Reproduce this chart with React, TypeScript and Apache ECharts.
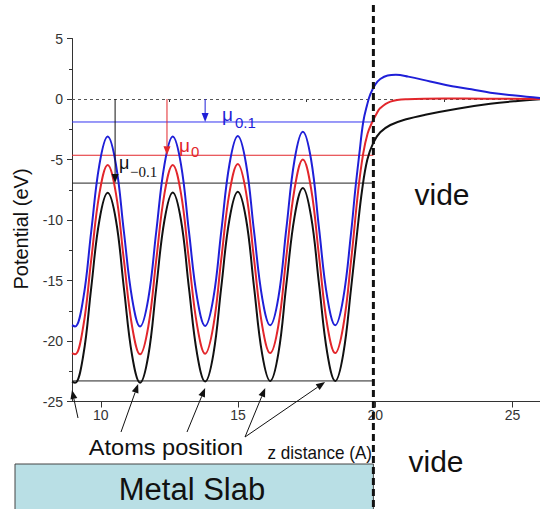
import React, { useEffect, useRef } from 'react';
import * as echarts from 'echarts';

// ---------- data ----------
const X_MIN = 8.95;
const X_MAX = 26;
const Y_MIN = -25;
const Y_MAX = 5;

const xTicks = [10, 15, 20, 25];
const xMinorTicks = [12.5, 17.5, 22.5];

// oscillating part inside the slab (z in Å)
const zOsc = [8.95, 9.06, 9.36, 9.65, 9.95, 10.25, 10.55, 10.84, 11.14, 11.43,
  11.73, 12.02, 12.32, 12.62, 12.92, 13.21, 13.51, 13.8, 14.1, 14.39,
  14.69, 14.99, 15.29, 15.58, 15.88, 16.17, 16.47, 16.76, 17.06, 17.36,
  17.66, 17.95, 18.25, 18.54, 18.83, 19.12];

const potBlackOsc = [-23.35, -23.45, -21.2, -15.6, -10.0, -7.75, -10.0, -15.6, -21.2, -23.45,
  -21.2, -15.6, -10.0, -7.72, -10.0, -15.6, -21.1, -23.35, -21.1, -15.5,
  -9.9, -7.66, -9.9, -15.5, -21.1, -23.3, -21.0, -15.3, -9.7, -7.35,
  -9.7, -15.3, -21.0, -23.3, -21.1, -15.6];
const potRedOsc = [-21.0, -21.1, -18.8, -13.3, -7.8, -5.45, -7.8, -13.3, -18.8, -21.1,
  -18.8, -13.3, -7.8, -5.45, -7.8, -13.3, -18.75, -21.05, -18.75, -13.2,
  -7.7, -5.37, -7.7, -13.2, -18.75, -21.0, -18.7, -13.0, -7.4, -5.0,
  -7.4, -13.0, -18.7, -21.0, -18.8, -13.3];
const potBlueOsc = [-18.7, -18.8, -16.5, -10.95, -5.4, -3.1, -5.4, -10.95, -16.5, -18.8,
  -16.5, -10.95, -5.4, -3.1, -5.4, -10.95, -16.45, -18.75, -16.45, -10.9,
  -5.35, -3.06, -5.35, -10.9, -16.45, -18.7, -16.4, -10.7, -5.0, -2.7,
  -5.0, -10.7, -16.4, -18.7, -16.5, -11.0];

// surface + vacuum tails
const zBlackTail = [19.34, 19.52, 19.71, 19.93, 20.18, 20.55, 21.09, 21.82, 22.99, 24.19, 25.1, 26.0];
const potBlackTail = [-11.0, -7.5, -5.0, -3.6, -2.75, -2.15, -1.7, -1.3, -0.8, -0.4, -0.18, -0.02];
const zRedTail = [19.38, 19.56, 19.72, 19.89, 20.05, 20.18, 20.55, 21.17, 22.5, 24.0, 26.0];
const potRedTail = [-7.5, -4.5, -2.85, -1.9, -1.2, -0.75, -0.22, -0.02, 0.04, 0.02, 0.0];
const zBlueTail = [19.27, 19.42, 19.56, 19.7, 19.82, 20.0, 20.18, 20.45, 20.75, 21.2, 22.0, 22.8, 23.5, 24.19, 25.1, 26.0];
const potBlueTail = [-7.5, -4.5, -1.9, -0.5, 0.4, 1.2, 1.65, 1.95, 2.0, 1.85, 1.45, 1.05, 0.8, 0.52, 0.28, 0.08];

// chemical potential levels (blue μ0.1, red μ0, black μ-0.1)
const muValues = [-1.9, -4.65, -6.95];
const muArrowZ = [13.8, 12.41, 10.52];
const atomLineY = -23.3;
const surfaceZ = 19.93;

// atoms position arrows (heads, in data units)
const atomZ = [8.95, 11.36, 13.8, 15.99, 18.17];
const atomHeadY = [-24.05, -23.55, -23.88, -23.88, -23.39];

// ---------- styles ----------
const BLUE = '#1f1fd8';
const RED = '#e2262b';
const BLACK = '#111111';
const FONT = '"Liberation Sans", Arial, sans-serif';
const SERIF = '"Liberation Serif", "Times New Roman", serif';

const pairs = (xs: number[], ys: number[]) => xs.map((x, i) => [x, ys[i]]);

const curve = (xs: number[], ys: number[], color: string, z: number) => ({
  type: 'line',
  data: pairs(xs, ys),
  showSymbol: false,
  symbol: 'none',
  smooth: 0.4,
  silent: true,
  z,
  lineStyle: { color, width: 2 },
  itemStyle: { color },
  emphasis: { disabled: true },
});

const hLine = (y: number, x2: number, color: string) => ({
  type: 'line',
  data: [[X_MIN, y], [x2, y]],
  showSymbol: false,
  symbol: 'none',
  silent: true,
  z: 1,
  lineStyle: { color, width: 1 },
  emphasis: { disabled: true },
});

function arrow(x1: number, y1: number, x2: number, y2: number, color: string, L = 9, W = 3.5) {
  const ang = Math.atan2(y2 - y1, x2 - x1);
  const bx = x2 - L * Math.cos(ang);
  const by = y2 - L * Math.sin(ang);
  const nx = -Math.sin(ang);
  const ny = Math.cos(ang);
  return [
    { type: 'line', z: 30, silent: true, shape: { x1, y1, x2: bx, y2: by }, style: { stroke: color, lineWidth: 1 } },
    {
      type: 'polygon', z: 30, silent: true,
      shape: { points: [[x2, y2], [bx + nx * W, by + ny * W], [bx - nx * W, by - ny * W]] },
      style: { fill: color },
    },
  ];
}

const txt = (x: number, y: number, text: string, size: number, color: string, opts: any = {}) => ({
  type: 'text',
  x,
  y,
  z: 40,
  silent: true,
  scaleX: opts.scaleX ?? 1,
  rotation: opts.rotation ?? 0,
  style: {
    text,
    x: 0,
    y: 0,
    fill: color,
    fontSize: size,
    fontFamily: opts.family ?? FONT,
    align: opts.align ?? 'left',
    verticalAlign: 'middle',
  },
});

export default function App() {
  const ref = useRef<HTMLDivElement>(null);

  useEffect(() => {
    const chart = echarts.init(ref.current!, null, { renderer: 'svg' });
    const labelStyle = { color: '#333', fontSize: 14, fontFamily: FONT };
    chart.setOption({
      animation: false,
      grid: { left: 72, right: 0, top: 38.5, bottom: 107.5, containLabel: false },
      xAxis: [
        {
          type: 'value', min: X_MIN, max: X_MAX, position: 'bottom',
          axisLine: { show: true, onZero: false, lineStyle: { color: '#333', width: 1 } },
          axisTick: { show: true, length: 6, customValues: xTicks, lineStyle: { color: '#333' } },
          axisLabel: { show: true, customValues: xTicks, margin: 6, ...labelStyle },
          splitLine: { show: false },
        },
        {
          type: 'value', min: X_MIN, max: X_MAX, position: 'bottom', offset: 0,
          axisLine: { show: false },
          axisTick: { show: true, length: 3, customValues: xMinorTicks, lineStyle: { color: '#333' } },
          axisLabel: { show: false },
          splitLine: { show: false },
        },
      ],
      yAxis: {
        type: 'value', min: Y_MIN, max: Y_MAX, interval: 5,
        axisLine: { show: true, onZero: false, lineStyle: { color: '#333', width: 1 } },
        axisTick: { show: true, length: 5, lineStyle: { color: '#333' } },
        minorTick: { show: true, splitNumber: 2, length: 3, lineStyle: { color: '#333' } },
        axisLabel: { margin: 9, ...labelStyle },
        splitLine: { show: false },
      },
      series: [
        {
          ...hLine(muValues[0], surfaceZ, '#3434f0'),
          markLine: {
            silent: true, symbol: 'none', label: { show: false },
            lineStyle: { color: '#555', type: [3, 3], width: 1 },
            emphasis: { disabled: true },
            data: [{ yAxis: 0 }],
          },
        },
        hLine(muValues[1], surfaceZ, RED),
        hLine(muValues[2], surfaceZ, '#222'),
        hLine(atomLineY, surfaceZ, '#222'),
        curve([...zOsc, ...zBlackTail], [...potBlackOsc, ...potBlackTail], BLACK, 5),
        curve([...zOsc, ...zRedTail], [...potRedOsc, ...potRedTail], RED, 6),
        curve([...zOsc, ...zBlueTail], [...potBlueOsc, ...potBlueTail], BLUE, 7),
      ],
    });

    const px = (x: number, y: number) => chart.convertToPixel({ seriesIndex: 4 }, [x, y]) as number[];

    const g: any[] = [];
    const surf = px(surfaceZ, 0)[0];

    // metal slab box
    g.push({
      type: 'rect', z: 20, silent: true,
      shape: { x: 15, y: 464, width: surf - 15, height: 60 },
      style: { fill: '#b9dfe5', stroke: '#444', lineWidth: 1 },
    });
    g.push(txt(192, 489, 'Metal Slab', 31, BLACK, { align: 'center' }));

    // surface dashed line
    g.push({
      type: 'line', z: 50, silent: true,
      shape: { x1: surf, y1: 5, x2: surf, y2: 509 },
      style: { stroke: BLACK, lineWidth: 3, lineDash: [7, 4] },
    });

    // μ arrows from vacuum level
    const muColors = [BLUE, RED, BLACK];
    muValues.forEach((m, i) => {
      const a = px(muArrowZ[i], 0);
      const b = px(muArrowZ[i], m);
      g.push(...arrow(a[0], a[1], b[0], b[1], muColors[i], 9, 3.5));
    });

    // μ labels
    g.push(txt(222, 114, 'μ', 19, BLUE));
    g.push(txt(235, 122, '0.1', 15, BLUE));
    g.push(txt(179, 145, 'μ', 19, RED));
    g.push(txt(191, 151.5, '0', 15, RED));
    g.push(txt(119, 163, 'μ', 18, BLACK));
    g.push(txt(130, 172, '−0.1', 15, BLACK, { family: SERIF }));

    // atoms position arrows
    const tails = [[78, 418], [121, 432], [187, 432], [245, 437], [245, 437]];
    atomZ.forEach((z, i) => {
      const h = px(z, atomHeadY[i]);
      g.push(...arrow(tails[i][0], tails[i][1], h[0], h[1], BLACK, 9, 3.5));
    });

    g.push(txt(166, 447, 'Atoms position', 22, BLACK, { align: 'center', scaleX: 1.07 }));
    g.push(txt(372, 453, 'z distance (A)', 18, BLACK, { align: 'right', scaleX: 0.95 }));
    g.push(txt(442, 194, 'vide', 30, BLACK, { align: 'center' }));
    g.push(txt(436, 461, 'vide', 30, BLACK, { align: 'center' }));

    // y axis title
    g.push(txt(21, 229, 'Potential (eV)', 20, BLACK, { align: 'center', rotation: Math.PI / 2 }));

    chart.setOption({ graphic: g });

    return () => chart.dispose();
  }, []);

  return (
    <div
      ref={ref}
      style={{ position: 'fixed', left: 0, top: 0, width: 540, height: 509, background: '#fff' }}
    />
  );
}
